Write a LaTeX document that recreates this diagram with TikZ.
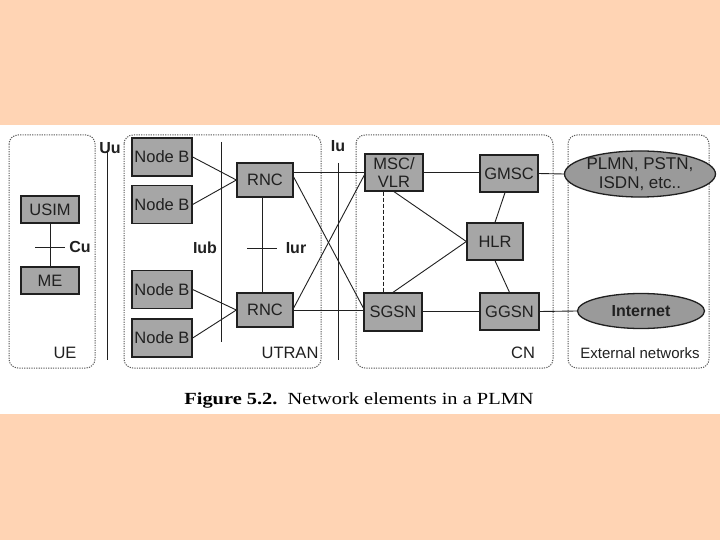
\documentclass[tikz,border=0pt]{standalone}
\usepackage{fontspec}
\setmainfont{Liberation Sans}
\newfontfamily\capfont{Liberation Serif}
\usetikzlibrary{shapes.geometric}
\definecolor{peach}{HTML}{FFD4B4}
\definecolor{boxfill}{HTML}{A6A6A6}
\definecolor{ellfill}{HTML}{9A9A9A}
\definecolor{ink}{HTML}{202020}
\begin{document}
\begin{tikzpicture}[x=1pt,y=-1pt,
  elem/.style={draw=ink, line width=1.3pt, fill=boxfill, minimum width=58pt, minimum height=37pt,
    inner sep=0pt, font=\fontsize{16.5}{18}\selectfont, text=ink, align=center},
  net/.style={ellipse, draw=ink, line width=1.3pt, fill=ellfill, inner sep=0pt,
    font=\fontsize{17}{18.5}\selectfont, text=ink, align=center},
  areabox/.style={draw=black!65, line width=1pt, dash pattern=on 1.2pt off 1.2pt, rounded corners=9pt},
  link/.style={draw=ink, line width=0.9pt},
  lbl/.style={font=\bfseries\fontsize{16}{16}\selectfont, text=ink, inner sep=0pt},
  dlbl/.style={font=\fontsize{16.5}{16}\selectfont, text=ink, inner sep=0pt}]
\useasboundingbox (0,0) rectangle (720,540);
\fill[peach] (0,0) rectangle (720,540);
\fill[white] (0,125) rectangle (720,414);

% domains
\draw[areabox] (9,135) rectangle (95,368);
\draw[areabox] (124,135) rectangle (321,368);
\draw[areabox] (356,135) rectangle (553,368);
\draw[areabox] (568,135) rectangle (709,368);
\node[dlbl] (ue) at (65,353) {UE};
\node[dlbl] (utran) at (290,353) {UTRAN};
\node[dlbl] (cn) at (523,353) {CN};
\node[dlbl, font=\fontsize{15}{15}\selectfont] (ext) at (640,353) {External networks};

% UE
\node[elem, minimum height=27pt] (usim) at (50,209.5) {USIM};
\node[elem, minimum height=27pt] (me) at (50,280.5) {ME};
\draw[link] (usim.south) -- (me.north);
\coordinate (cua) at (35,247); \coordinate (cub) at (65,247);
\draw[link] (cua) -- (cub);
\node[lbl] (cu) at (80,247) {Cu};

% Uu
\coordinate (uua) at (107,152); \coordinate (uub) at (107,360);
\draw[link] (uua) -- (uub);
\node[lbl] (uu) at (110,148) {Uu};

% Node Bs
\node[elem, minimum width=60pt, minimum height=38pt] (nb1) at (162,157) {Node B};
\node[elem, minimum width=60pt, minimum height=38pt] (nb2) at (162,204.5) {Node B};
\node[elem, minimum width=60pt, minimum height=38pt] (nb3) at (162,289.5) {Node B};
\node[elem, minimum width=60pt, minimum height=38pt] (nb4) at (162,338) {Node B};

% Iub
\coordinate (iuba) at (221,142); \coordinate (iubb) at (221,342);
\draw[link] (iuba) -- (iubb);
\node[lbl] (iub) at (205,248) {Iub};

% RNCs
\node[elem, minimum width=56pt, minimum height=34pt] (rnc1) at (265,180) {RNC};
\node[elem, minimum width=56pt, minimum height=34pt] (rnc2) at (265,310) {RNC};
\draw[link] (nb1.east) -- (rnc1.west);
\draw[link] (nb2.east) -- (rnc1.west);
\draw[link] (nb3.east) -- (rnc2.west);
\draw[link] (nb4.east) -- (rnc2.west);
\draw[link] ([xshift=-3pt]rnc1.south) -- ([xshift=-3pt]rnc2.north);
\coordinate (iura) at (247,248); \coordinate (iurb) at (277,248);
\draw[link] (iura) -- (iurb);
\node[lbl] (iur) at (296,248) {Iur};

% Iu
\coordinate (iua) at (338,163); \coordinate (iub2) at (338,360);
\draw[link] (iua) -- (iub2);
\node[lbl] (iu) at (338,146) {Iu};

% CN
\node[elem] (msc) at (394,172.5) {MSC/\\VLR};
\node[elem, minimum height=38pt] (sgsn) at (393,312) {SGSN};
\node[elem, minimum width=56pt] (hlr) at (495,241.5) {HLR};
\node[elem] (gmsc) at (509,173.5) {GMSC};
\node[elem, minimum width=59pt] (ggsn) at (509.5,311.5) {GGSN};

% external
\node[net, minimum width=134pt, minimum height=42pt] (plmn) at (640,174) {PLMN, PSTN,\\ISDN, etc..};
\node[net, minimum width=127pt, minimum height=35pt, font=\bfseries\fontsize{16}{15}\selectfont] (inet) at (641,311) {Internet};

% links
\draw[link] (rnc1.east |- msc.west) -- (msc.west);
\draw[link] (msc.east) -- (gmsc.west |- msc.east);
\draw[link] (gmsc.east) -- (plmn.west);
\draw[link] (rnc2.east) -- (sgsn.west |- rnc2.east);
\draw[link] (sgsn.east |- ggsn.west) -- (ggsn.west);
\draw[link] (ggsn.east) -- (inet.west);
\draw[link] ([yshift=3pt]rnc1.east) -- ([yshift=4pt]sgsn.west);
\draw[link] ([yshift=2pt]rnc2.east) -- ([yshift=-2.5pt]msc.west);
\draw[link, dash pattern=on 4pt off 2pt] ([xshift=-11pt]msc.south) -- ([xshift=-10pt]sgsn.north);
\draw[link] (msc.south) -- (hlr.west);
\draw[link] (sgsn.north) -- (hlr.west);
\draw[link] ([xshift=-4pt]gmsc.south) -- (hlr.north);
\draw[link] (hlr.south) -- (ggsn.north);

% caption
\node[inner sep=0pt, text=black] (cap) at (359,400) {\scalebox{1.2}[1]{\capfont\fontsize{17}{18}\selectfont\textbf{Figure 5.2.}\ \ Network elements in a PLMN}};
\end{tikzpicture}
\end{document}
